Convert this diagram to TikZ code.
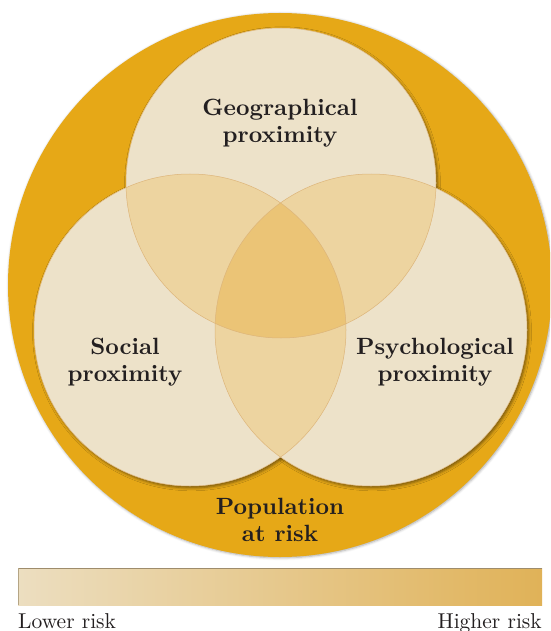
\documentclass[tikz,border=0pt]{standalone}
\usepackage{fontspec}
\newfontfamily\labelfont{lmroman10-bold}[Extension=.otf]
\newfontfamily\barfont{lmroman10-regular}[Extension=.otf]
\usetikzlibrary{shadows.blur}
\definecolor{orangeRing}{HTML}{E6A817}
\definecolor{creamFill}{HTML}{EDE2C9}
\definecolor{pairFill}{HTML}{EDD4A0}
\definecolor{tripleFill}{HTML}{EBC476}
\definecolor{edgeLine}{HTML}{DDB57A}
\definecolor{labelText}{HTML}{231F20}
\definecolor{barLeft}{HTML}{ECDEC0}
\definecolor{barRight}{HTML}{E0B258}
\definecolor{barEdge}{HTML}{9E8C6C}
\tikzset{
  ringshadow/.style={blur shadow={shadow xshift=0.8pt, shadow yshift=-0.8pt, shadow blur radius=2.5pt, shadow opacity=35}},
  circshadow/.style={blur shadow={shadow xshift=1.5pt, shadow yshift=-1.8pt, shadow blur radius=3pt, shadow opacity=50}},
  biglabel/.style={text=labelText, align=center, font=\labelfont\fontsize{23.5}{27.5}\selectfont, inner sep=0pt},
  smalllabel/.style={text=labelText, font=\barfont\fontsize{21.5}{24}\selectfont, inner sep=0pt},
}
\begin{document}
\begin{tikzpicture}[x=1pt,y=-1pt]
\useasboundingbox (0,0) rectangle (550,631);
\clip (0,0) rectangle (550,631);
\coordinate (oc) at (280,285);
\coordinate (gc) at (281,183);
\coordinate (sc) at (190,330);
\coordinate (pc) at (371,330);
% outer ring
\fill[orangeRing, ringshadow] (oc) circle[radius=272pt];
% circle shadows + base fill
\fill[creamFill, circshadow] (gc) circle[radius=155pt];
\fill[creamFill, circshadow] (sc) circle[radius=156pt];
\fill[creamFill, circshadow] (pc) circle[radius=156pt];
\fill[creamFill] (gc) circle[radius=155pt];
\fill[creamFill] (sc) circle[radius=156pt];
\fill[creamFill] (pc) circle[radius=156pt];
% pairwise overlaps
\begin{scope}
  \clip (gc) circle[radius=155pt];
  \fill[pairFill] (sc) circle[radius=156pt];
  \fill[pairFill] (pc) circle[radius=156pt];
\end{scope}
\begin{scope}
  \clip (sc) circle[radius=156pt];
  \fill[pairFill] (pc) circle[radius=156pt];
\end{scope}
% triple overlap
\begin{scope}
  \clip (gc) circle[radius=155pt];
  \clip (sc) circle[radius=156pt];
  \fill[tripleFill] (pc) circle[radius=156pt];
\end{scope}
% faint outlines
\draw[edgeLine, line width=0.5pt] (gc) circle[radius=155pt];
\draw[edgeLine, line width=0.5pt] (sc) circle[radius=156pt];
\draw[edgeLine, line width=0.5pt] (pc) circle[radius=156pt];
% labels
\node[biglabel] (geo) at (280,123) {Geographical\\proximity};
\node[biglabel] (soc) at (125,362) {Social\\proximity};
\node[biglabel] (psy) at (435,362) {Psychological\\proximity};
\node[biglabel] (pop) at (280,520) {Population\\at risk};
% risk bar
\shade[left color=barLeft, right color=barRight] (18,568) rectangle (542,605);
\draw[barEdge, line width=1.3pt] (18,568.7) -- (542,568.7);
\draw[barEdge!70!barLeft, line width=1.2pt] (18.6,568) -- (18.6,605);
\coordinate (barSW) at (18,628);
\coordinate (barSE) at (542,628);
\node[smalllabel, anchor=base west] (low) at (barSW) {Lower risk};
\node[smalllabel, anchor=base east] (high) at (barSE) {Higher risk};
\end{tikzpicture}
\end{document}
